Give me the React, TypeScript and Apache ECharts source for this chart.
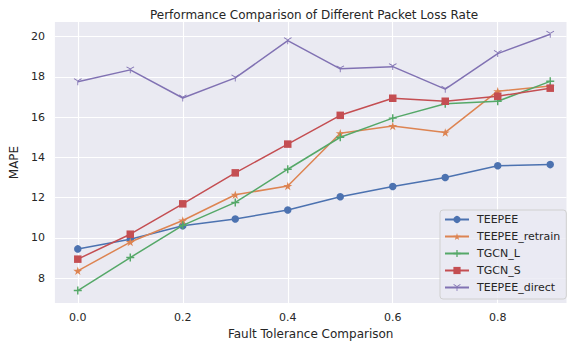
import React, { useEffect, useRef } from "react";
import * as echarts from "echarts";

const xValues = [0, 0.1, 0.2, 0.3, 0.4, 0.5, 0.6, 0.7, 0.8, 0.9];
const teepee = [9.45, 9.93, 10.6, 10.94, 11.38, 12.04, 12.55, 13.0, 13.58, 13.64];
const teepeeRetrain = [8.36, 9.79, 10.86, 12.14, 12.58, 15.2, 15.56, 15.24, 17.29, 17.55];
const tgcnL = [7.38, 9.02, 10.62, 11.76, 13.41, 15.0, 15.95, 16.67, 16.79, 17.78];
const tgcnS = [8.94, 10.18, 11.69, 13.23, 14.66, 16.09, 16.94, 16.79, 17.04, 17.44];
const teepeeDirect = [17.76, 18.35, 16.95, 17.95, 19.8, 18.4, 18.51, 17.39, 19.16, 20.12];

const xTicks = [0, 0.2, 0.4, 0.6, 0.8];
const yTicks = [8, 10, 12, 14, 16, 18, 20];

const seriesNames = ["TEEPEE", "TEEPEE_retrain", "TGCN_L", "TGCN_S", "TEEPEE_direct"];
const colors = ["#4C72B0", "#DD8452", "#55A868", "#C44E52", "#8172B3"];

const STAR = "path://M50,0 L61,35 L98,35 L68,57 L79,91 L50,70 L21,91 L32,57 L2,35 L39,35 Z";
const PLUS = "path://M4.1,0 L5.9,0 L5.9,4.1 L10,4.1 L10,5.9 L5.9,5.9 L5.9,10 L4.1,10 L4.1,5.9 L0,5.9 L0,4.1 L4.1,4.1 Z";
const TRI = "path://M9,10 L11,10 L11,20 L9,20 Z M10.5,9.13 L1.84,4.13 L0.84,5.87 L9.5,10.87 Z M9.5,9.13 L18.16,4.13 L19.16,5.87 L10.5,10.87 Z";

export default function App() {
  const ref = useRef<HTMLDivElement>(null);
  useEffect(() => {
    if (!ref.current) return;
    const chart = echarts.init(ref.current, undefined, { renderer: "svg" });
    const seriesData = [teepee, teepeeRetrain, tgcnL, tgcnS, teepeeDirect];
    const symbols = ["circle", STAR, PLUS, "rect", TRI];
    const sizes = [7.5, 9, 8, 7.5, 8];
    const txt = "#262626";
    const font = "DejaVu Sans";
    chart.setOption({
      animation: false,
      backgroundColor: "#ffffff",
      title: {
        text: "Performance Comparison of Different Packet Loss Rate",
        left: 309,
        textAlign: "center",
        top: 4,
        textStyle: { fontFamily: font, fontSize: 12, fontWeight: "normal", color: txt },
      },
      grid: {
        left: 52,
        right: 2.5,
        top: 22,
        bottom: 42,
        show: true,
        backgroundColor: "#EAEAF2",
        borderWidth: 0,
      },
      xAxis: {
        type: "value",
        min: -0.0436,
        max: 0.931,
        name: "Fault Tolerance Comparison",
        nameLocation: "middle",
        nameGap: 23,
        nameTextStyle: { fontFamily: font, fontSize: 12, color: txt },
        axisLine: { show: false },
        axisTick: { show: false, customValues: xTicks },
        axisLabel: {
          customValues: xTicks,
          formatter: (v: number) => v.toFixed(1),
          fontFamily: font,
          fontSize: 11,
          color: txt,
          margin: 9,
        },
        splitLine: { show: true, lineStyle: { color: "#ffffff", width: 1.1 } },
      },
      yAxis: {
        type: "value",
        min: 6.76,
        max: 20.73,
        name: "MAPE",
        nameLocation: "middle",
        nameGap: 31,
        nameTextStyle: { fontFamily: font, fontSize: 12, color: txt },
        axisLine: { show: false },
        axisTick: { show: false, customValues: yTicks },
        axisLabel: {
          customValues: yTicks,
          fontFamily: font,
          fontSize: 11,
          color: txt,
          margin: 10,
        },
        splitLine: { show: true, lineStyle: { color: "#ffffff", width: 1.1 } },
        splitArea: { show: false },
      },
      legend: {
        orient: "vertical",
        left: 440,
        top: 210,
        padding: [3, 6, 5, 4],
        itemWidth: 24,
        itemHeight: 9,
        itemGap: 4,
        backgroundColor: "rgba(234,234,242,0.8)",
        borderColor: "#d0d0d0",
        borderWidth: 1,
        borderRadius: 3,
        textStyle: { fontFamily: font, fontSize: 11, color: txt, padding: [0, 0, 0, 3], lineHeight: 13 },
        data: seriesNames,
      },
      series: seriesNames.map((name, i) => ({
        name,
        type: "line",
        data: xValues.map((x, j) => [x, seriesData[i][j]]),
        symbol: symbols[i],
        symbolSize: sizes[i],
        symbolKeepAspect: true,
        showSymbol: true,
        color: colors[i],
        lineStyle: { width: 1.5, color: colors[i] },
        itemStyle: { color: colors[i] },
        z: 2 + i,
      })),
    });
    return () => chart.dispose();
  }, []);
  return (
    <div
      ref={ref}
      style={{ width: 569, height: 345, position: "absolute", left: 0, top: 0 }}
    />
  );
}
